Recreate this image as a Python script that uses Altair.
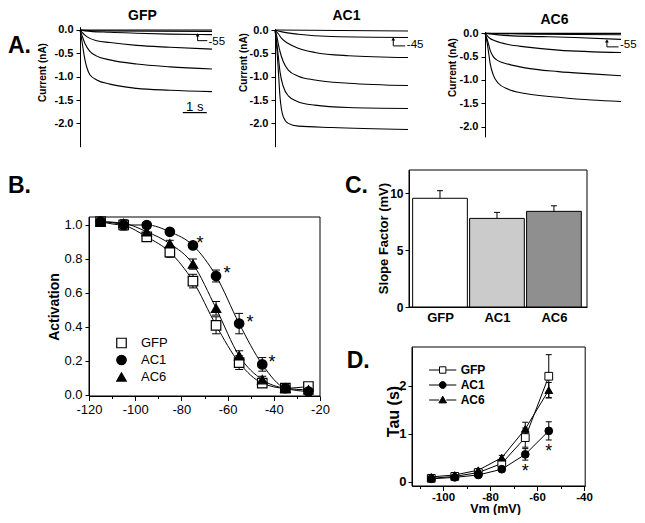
import json
import altair as alt
import pandas as pd

W, H = 629, 507
FONT = "Liberation Sans"
MINUS_FIX = "replace(datum.label, '\u2212', '-')"
MINOR_TICK = {"condition": {"test": "datum.value % 20 != 0", "value": 2.5}, "value": 4.5}


def P(v):
    # page pixel -> chart pixel (page has an 8px margin)
    return v - 8


def lin(domain, r0, r1):
    return alt.Scale(domain=domain, range=[P(r0), P(r1)], nice=False, zero=False)


def left_axis(x_page, values, fmt, title, label_size, label_weight, title_size,
              title_cx=0, title_cy=0, tick=4, pad=3):
    kw = dict(orient="left", offset=-P(x_page), values=values, labelExpr=MINUS_FIX,
              title=title, tickSize=tick, labelPadding=pad, labelFontSize=label_size,
              labelFontWeight=label_weight)
    if fmt:
        kw["format"] = fmt
    if title:
        kw.update(titleFontSize=title_size, titleFontWeight="bold",
                  titleX=title_cx - x_page, titleY=P(title_cy), titleAngle=-90,
                  titleBaseline="middle", titleAlign="center")
    return alt.Axis(**kw)


def bottom_axis(y_page, values, label_expr, title, label_size, label_weight, title_size=13,
                title_cx=0, title_cy=0, tick=4, pad=3, ticks=True):
    kw = dict(orient="bottom", offset=P(y_page) - H, values=values, labelExpr=label_expr,
              title=title, tickSize=tick, labelPadding=pad, ticks=ticks,
              labelFontSize=label_size, labelFontWeight=label_weight)
    if title:
        kw.update(titleFontSize=title_size, titleFontWeight="bold",
                  titleX=P(title_cx), titleY=title_cy - y_page,
                  titleBaseline="middle", titleAlign="center")
    return alt.Axis(**kw)


def top_title_axis(y_page, title, cx, cy):
    return alt.Axis(orient="top", offset=-P(y_page), domain=False, ticks=False, labels=False,
                    title=title, titleX=P(cx), titleY=cy - y_page, titleBaseline="middle",
                    titleAlign="center", titleFontSize=14, titleFontWeight="bold")


# ======================= DATA =======================
# ---- Panel A: current traces (time s, current nA) ----
TIME_DOMAIN = [0, 5.6]
A_TICKS = [0.0, -0.5, -1.0, -1.5, -2.0]

GFP_TRACES = [
    [(0, 0), (5.6, 0)],
    [(0, 0), (1.0, -0.02), (5.6, -0.03)],
    [(0, 0), (0.21, -0.02), (1.27, -0.05), (2.4, -0.07), (3.82, -0.09), (5.6, -0.10)],
    [(0, 0), (0.07, -0.04), (0.21, -0.11), (0.42, -0.18), (0.71, -0.23), (1.27, -0.27),
     (2.4, -0.33), (3.82, -0.37), (5.6, -0.41)],
    [(0, 0), (0.07, -0.10), (0.14, -0.20), (0.21, -0.29), (0.42, -0.46), (0.71, -0.56),
     (1.27, -0.64), (2.4, -0.73), (3.82, -0.79), (5.6, -0.835)],
    [(0, 0), (0.07, -0.20), (0.14, -0.43), (0.21, -0.64), (0.30, -0.82), (0.42, -0.96),
     (0.71, -1.07), (1.27, -1.16), (2.4, -1.25), (3.82, -1.29), (5.6, -1.32)],
]
AC1_TRACES = [
    [(0, 0), (5.6, -0.02)],
    [(0, 0), (0.3, -0.04), (0.98, -0.09), (2.39, -0.14), (5.6, -0.16)],
    [(0, 0), (0.14, -0.08), (0.28, -0.18), (0.56, -0.29), (0.98, -0.39), (1.68, -0.48),
     (3.09, -0.55), (5.6, -0.59)],
    [(0, 0), (0.07, -0.12), (0.14, -0.30), (0.21, -0.46), (0.35, -0.68), (0.56, -0.86),
     (0.98, -0.99), (1.68, -1.07), (3.09, -1.14), (5.6, -1.19)],
    [(0, 0), (0.07, -0.25), (0.14, -0.57), (0.21, -0.89), (0.35, -1.21), (0.56, -1.41),
     (0.98, -1.54), (1.68, -1.61), (3.09, -1.66), (5.6, -1.68)],
    [(0, 0), (0.07, -0.35), (0.14, -0.86), (0.21, -1.43), (0.35, -1.86), (0.56, -2.00),
     (0.98, -2.06), (2.39, -2.09), (5.6, -2.13)],
]
AC6_TRACES = [
    [(0, 0), (5.6, 0)],
    [(0, 0), (2.0, -0.02), (5.6, -0.03)],
    [(0, 0), (0.96, -0.05), (2.33, -0.07), (3.7, -0.09), (5.6, -0.13)],
    [(0, 0), (0.07, -0.04), (0.21, -0.11), (0.41, -0.16), (0.96, -0.24), (1.65, -0.29),
     (3.02, -0.36), (5.6, -0.41)],
    [(0, 0), (0.07, -0.10), (0.14, -0.22), (0.21, -0.36), (0.34, -0.50), (0.55, -0.59),
     (0.96, -0.66), (1.65, -0.74), (3.02, -0.82), (4.39, -0.87), (5.6, -0.91)],
    [(0, 0), (0.07, -0.15), (0.14, -0.38), (0.21, -0.64), (0.34, -0.89), (0.55, -1.07),
     (0.96, -1.20), (1.65, -1.29), (3.02, -1.37), (4.39, -1.43), (5.6, -1.46)],
]
GFP_ARROW = {"t": 4.99, "head": -0.107, "foot": -0.229, "t_end": 5.40, "lt": 5.45, "lI": -0.25, "text": "-55"}
AC1_ARROW = {"t": 4.98, "head": -0.19, "foot": -0.34, "t_end": 5.48, "lt": 5.55, "lI": -0.32, "text": "-45"}
AC6_ARROW = {"t": 5.02, "head": -0.16, "foot": -0.29, "t_end": 5.50, "lt": 5.56, "lI": -0.26, "text": "-55"}
SCALEBAR = {"t0": 4.36, "t1": 5.38, "I": -1.77, "tl": 4.87, "Il": -1.66, "text": "1 s"}

# ---- Panel B: activation curves ----
SERIES = ["GFP", "AC1", "AC6"]
B_V = [-115, -105, -95, -85, -75, -65, -55, -45, -35, -25]
B_GFP = [1.02, 1.00, 0.93, 0.84, 0.67, 0.41, 0.19, 0.07, 0.04, 0.05]
B_GFP_ERR = [0.01, 0.03, 0.02, 0.03, 0.04, 0.05, 0.04, 0.02, 0.01, 0.02]
B_AC1 = [1.02, 1.00, 1.00, 0.96, 0.88, 0.70, 0.42, 0.18, 0.04, 0.02]
B_AC1_ERR = [0.01, 0.01, 0.01, 0.01, 0.015, 0.035, 0.06, 0.04, 0.01, 0.01]
B_AC6 = [1.02, 1.01, 0.96, 0.89, 0.77, 0.51, 0.23, 0.09, 0.04, 0.03]
B_AC6_ERR = [0.01, 0.02, 0.02, 0.02, 0.03, 0.04, 0.03, 0.02, 0.01, 0.01]
B_STAR_V = [-72, -60.3, -50.3, -40.8]
B_STAR_A = [0.92, 0.74, 0.45, 0.22]

# ---- Panel C: slope factor ----
C_GROUPS = ["GFP", "AC1", "AC6"]
C_SLOPE = [9.57, 7.80, 8.42]
C_SEM = [0.67, 0.53, 0.49]
C_COLORS = ["#ffffff", "#cbcbcb", "#8f8f8f"]

# ---- Panel D: time constants ----
D_V = [-105, -95, -85, -75, -65, -55]
D_GFP = [0.07, 0.11, 0.19, 0.38, 0.92, 2.20]
D_GFP_ERR = [0.02, 0.02, 0.03, 0.05, 0.20, 0.45]
D_AC1 = [0.06, 0.09, 0.14, 0.26, 0.57, 1.06]
D_AC1_ERR = [0.02, 0.02, 0.02, 0.03, 0.12, 0.19]
D_AC6 = [0.10, 0.14, 0.24, 0.50, 1.10, 1.91]
D_AC6_ERR = [0.02, 0.03, 0.03, 0.05, 0.14, 0.16]
D_STAR_V = [-65, -55]
D_STAR_TAU = [0.31, 0.72]

SHAPES = ["square", "circle", "triangle-up"]
FILLS = ["white", "black", "black"]
STROKES = ["black", "black", "black"]
D_LEGEND_SHAPES = [
    "M-3.4,0H-0.85M0.85,0H3.4M-0.8,-0.8H0.8V0.8H-0.8Z",
    "M-3.4,0H-0.85M0.85,0H3.4M-0.85,0A0.85,0.85,0,1,0,0.85,0A0.85,0.85,0,1,0,-0.85,0Z",
    "M-3.4,0H-0.9M0.9,0H3.4M0,-0.95L0.95,0.72H-0.95Z",
]


def enc(xs, ys, xa, ya):
    """Encoders that always carry the same scale and axis spec (so shared axes merge cleanly)."""
    return (lambda f: alt.X(f, scale=xs, axis=xa)), (lambda f: alt.Y(f, scale=ys, axis=ya))


# ======================= PANEL A =======================
def panel_A(name, traces, x_range, y_dom, y_range, axis_x, title_c, ytitle_c, arrow, scalebar=None):
    rows = [{"t": t, "I": i, "trace": k} for k, tr in enumerate(traces) for t, i in tr]
    df = pd.DataFrame(rows)
    xs = lin(TIME_DOMAIN, *x_range)
    ys = lin(y_dom, *y_range)
    xa = top_title_axis(y_range[1], name, *title_c)
    ya = left_axis(axis_x, A_TICKS, ".1f", "Current (nA)", 11, "bold", 10,
                   ytitle_c[0], ytitle_c[1], tick=4, pad=3)
    X, Y = enc(xs, ys, xa, ya)
    layers = [
        alt.Chart(df).mark_line(color="black", strokeWidth=1.1, interpolate="monotone").encode(
            x=X("t:Q"), y=Y("I:Q"), detail="trace:N")
    ]
    base = alt.Chart(pd.DataFrame([arrow]))
    layers += [
        base.mark_rule(color="black", strokeWidth=1).encode(x=X("t:Q"), y=Y("head:Q"), y2="foot:Q"),
        base.mark_rule(color="black", strokeWidth=1).encode(x=X("t:Q"), x2="t_end:Q", y=Y("foot:Q")),
        base.mark_point(shape="triangle-up", filled=True, size=14, color="black", opacity=1).encode(
            x=X("t:Q"), y=Y("head:Q")),
        base.mark_text(align="left", baseline="middle", fontSize=11.5, color="black").encode(
            x=X("lt:Q"), y=Y("lI:Q"), text="text:N"),
    ]
    if scalebar:
        sb = alt.Chart(pd.DataFrame([scalebar]))
        layers += [
            sb.mark_rule(color="black", strokeWidth=1.2).encode(x=X("t0:Q"), x2="t1:Q", y=Y("I:Q")),
            sb.mark_text(align="center", baseline="middle", fontSize=13, color="black").encode(
                x=X("tl:Q"), y=Y("Il:Q"), text="text:N"),
        ]
    return alt.layer(*layers)


gfp = panel_A("GFP", GFP_TRACES, (80, 212), [-2.5, 0.07], (146.7, 26.7), 80, (142, 15.2), (42.5, 72),
              GFP_ARROW, SCALEBAR)
ac1 = panel_A("AC1", AC1_TRACES, (275, 408), [-2.5, 0.035], (146.7, 28.4), 275, (346, 15.5), (243, 62),
              AC1_ARROW)
ac6 = panel_A("AC6", AC6_TRACES, (485, 621), [-2.22, 0.035], (136.9, 31.7), 485, (554, 19), (452.5, 67),
              AC6_ARROW)


def long_df(xs, series_vals, series_errs, xname, yname):
    rows = []
    for s, vals, errs in zip(SERIES, series_vals, series_errs):
        for x, v, e in zip(xs, vals, errs):
            rows.append({xname: x, yname: v, "lo": v - e, "hi": v + e, "series": s})
    return pd.DataFrame(rows)


def symbol_channels(shape_range, legend):
    return dict(
        shape=alt.Shape("series:N", scale=alt.Scale(domain=SERIES, range=shape_range), legend=legend),
        fill=alt.Fill("series:N", scale=alt.Scale(domain=SERIES, range=FILLS), legend=legend),
        stroke=alt.Stroke("series:N", scale=alt.Scale(domain=SERIES, range=STROKES), legend=legend),
    )


# ======================= PANEL B =======================
B_XDOM = [-120, -20]
B_YDOM = [-0.006, 1.047]
bx = lin(B_XDOM, 89, 320)
by = lin(B_YDOM, 396, 217)
bxa = bottom_axis(396, list(range(-120, -19, 10)),
                  "datum.value % 20 == 0 ? " + MINUS_FIX + " : ''", None, 13, "normal", pad=2.5,
                  tick=MINOR_TICK)
bya = left_axis(89, [0.0, 0.2, 0.4, 0.6, 0.8, 1.0], ".1f", "Activation", 13, "normal", 14,
                54, 306.5, tick=4, pad=3)
bX, bY = enc(bx, by, bxa, bya)
dfB = long_df(B_V, [B_GFP, B_AC1, B_AC6], [B_GFP_ERR, B_AC1_ERR, B_AC6_ERR], "V", "A")
boxB = pd.DataFrame({"x0": [B_XDOM[0]], "x1": [B_XDOM[1]], "y0": [B_YDOM[0]], "y1": [B_YDOM[1]]})
b_legend = alt.Legend(orient="none", legendX=P(115), legendY=P(336.5), title=None, labelFontSize=13,
                      symbolSize=90, labelOffset=13, rowPadding=2, padding=0, symbolStrokeWidth=1.2)
panelB = alt.layer(
    alt.Chart(boxB).mark_rect(fillOpacity=0, stroke="black", strokeWidth=1).encode(
        x=bX("x0:Q"), x2="x1:Q", y=bY("y0:Q"), y2="y1:Q"),
    alt.Chart(dfB).mark_rule(color="black", strokeWidth=1).encode(x=bX("V:Q"), y=bY("lo:Q"), y2="hi:Q"),
    alt.Chart(dfB).mark_tick(orient="horizontal", size=8, thickness=1, color="black", opacity=1).encode(
        x=bX("V:Q"), y=bY("hi:Q")),
    alt.Chart(dfB).mark_tick(orient="horizontal", size=8, thickness=1, color="black", opacity=1).encode(
        x=bX("V:Q"), y=bY("lo:Q")),
    alt.Chart(dfB).mark_line(color="black", strokeWidth=1, interpolate="monotone").encode(
        x=bX("V:Q"), y=bY("A:Q"), detail="series:N"),
    alt.Chart(dfB).mark_point(filled=True, opacity=1, strokeWidth=1.2, size=90).encode(
        x=bX("V:Q"), y=bY("A:Q"), **symbol_channels(SHAPES, b_legend)),
    alt.Chart(pd.DataFrame({"V": B_STAR_V, "A": B_STAR_A, "s": ["*"] * len(B_STAR_V)})).mark_text(
        fontSize=18, baseline="alphabetic", dy=10, color="black").encode(
        x=bX("V:Q"), y=bY("A:Q"), text="s:N"),
)

# ======================= PANEL C =======================
C_XDOM = [0.456, 3.58]
C_YDOM = [0, 12.06]
cx = lin(C_XDOM, 409, 587)
cy = lin(C_YDOM, 307, 170)
dfC = pd.DataFrame({"group": C_GROUPS, "pos": list(range(1, len(C_GROUPS) + 1)),
                    "slope": C_SLOPE, "sem": C_SEM})
c_labels = json.dumps([""] + C_GROUPS)
cxa = bottom_axis(307, [1, 2, 3], c_labels + "[datum.value]", None, 13, "bold", pad=4, ticks=False)
cya = left_axis(409, [0, 5, 10], "d", "Slope Factor (mV)", 12, "bold", 13, 383, 238, tick=4, pad=2)
cX, cY = enc(cx, cy, cxa, cya)
boxC = pd.DataFrame({"x0": [C_XDOM[0]], "x1": [C_XDOM[1]], "y0": [C_YDOM[0]], "y1": [C_YDOM[1]]})
panelC = alt.layer(
    alt.Chart(boxC).mark_rect(fillOpacity=0, stroke="black", strokeWidth=1).encode(
        x=cX("x0:Q"), x2="x1:Q", y=cY("y0:Q"), y2="y1:Q"),
    alt.Chart(dfC).transform_calculate(top="datum.slope + datum.sem").mark_rule(
        color="black", strokeWidth=1).encode(x=cX("pos:Q"), y=cY("slope:Q"), y2="top:Q"),
    alt.Chart(dfC).transform_calculate(top="datum.slope + datum.sem").mark_tick(
        orient="horizontal", size=6, thickness=1, color="black", opacity=1).encode(
        x=cX("pos:Q"), y=cY("top:Q")),
    alt.Chart(dfC).transform_calculate(
        x0="datum.pos - 0.48", x1="datum.pos + 0.48", base="0").mark_rect(
        stroke="black", strokeWidth=1, opacity=1).encode(
        x=cX("x0:Q"), x2="x1:Q", y=cY("slope:Q"), y2="base:Q",
        fill=alt.Fill("group:N", scale=alt.Scale(domain=C_GROUPS, range=C_COLORS), legend=None)),
)

# ======================= PANEL D =======================
D_XDOM = [-113.2, -39.5]
D_YDOM = [-0.09, 2.81]
dx_ = lin(D_XDOM, 412, 585.2)
dy_ = lin(D_YDOM, 486, 347)
dxa = bottom_axis(486, list(range(-110, -39, 10)),
                  "datum.value % 20 == 0 ? " + MINUS_FIX + " : ''", "Vm (mV)", 11.5, "bold", 12.5,
                  495, 508.3, pad=0.5, tick=MINOR_TICK)
dya = left_axis(412, [0, 1, 2], "d", "Tau (s)", 13, "bold", 16, 393, 411, tick=4, pad=2)
dX, dY = enc(dx_, dy_, dxa, dya)
dfD = long_df(D_V, [D_GFP, D_AC1, D_AC6], [D_GFP_ERR, D_AC1_ERR, D_AC6_ERR], "V", "tau")
boxD = pd.DataFrame({"x0": [D_XDOM[0]], "x1": [D_XDOM[1]], "y0": [D_YDOM[0]], "y1": [D_YDOM[1]]})
d_legend = alt.Legend(orient="none", legendX=P(436.7), legendY=P(364), title=None, labelFontSize=12,
                      labelFontWeight="bold", symbolSize=64, labelOffset=12, rowPadding=3, padding=0,
                      symbolStrokeWidth=1)
panelD = alt.layer(
    alt.Chart(boxD).mark_rect(fillOpacity=0, stroke="black", strokeWidth=1).encode(
        x=dX("x0:Q"), x2="x1:Q", y=dY("y0:Q"), y2="y1:Q"),
    alt.Chart(dfD).mark_rule(color="black", strokeWidth=1).encode(x=dX("V:Q"), y=dY("lo:Q"), y2="hi:Q"),
    alt.Chart(dfD).mark_tick(orient="horizontal", size=6, thickness=1, color="black", opacity=1).encode(
        x=dX("V:Q"), y=dY("hi:Q")),
    alt.Chart(dfD).mark_tick(orient="horizontal", size=6, thickness=1, color="black", opacity=1).encode(
        x=dX("V:Q"), y=dY("lo:Q")),
    alt.Chart(dfD).mark_line(color="black", strokeWidth=1).encode(
        x=dX("V:Q"), y=dY("tau:Q"), detail="series:N"),
    alt.Chart(dfD).mark_point(filled=True, opacity=1, strokeWidth=1, size=60).encode(
        x=dX("V:Q"), y=dY("tau:Q"), **symbol_channels(SHAPES, None)),
    alt.Chart(alt.Data(values=[])).mark_point(filled=True, opacity=1, strokeWidth=1, size=64).encode(
        x=dX("V:Q"), y=dY("tau:Q"), **symbol_channels(D_LEGEND_SHAPES, d_legend)),
    alt.Chart(pd.DataFrame({"V": D_STAR_V, "tau": D_STAR_TAU, "s": ["*"] * len(D_STAR_V)})).mark_text(
        fontSize=18, baseline="alphabetic", dy=10, color="black").encode(
        x=dX("V:Q"), y=dY("tau:Q"), text="s:N"),
).resolve_scale(shape="independent", fill="independent", stroke="independent")


# ======================= PANEL LETTERS =======================
def letter(txt, x, y):
    return alt.Chart(alt.Data(values=[{}])).mark_text(
        text=txt, align="left", baseline="alphabetic", fontSize=23, fontWeight="bold", color="black"
    ).encode(x=alt.value(x), y=alt.value(y))


letters = [letter("A.", P(8), P(53)), letter("B.", P(8), P(193)),
           letter("C.", P(345), P(192.7)), letter("D.", P(346.7), P(367.7))]

chart = alt.layer(gfp, ac1, ac6, panelB, panelC, panelD, *letters).resolve_scale(
    x="independent", y="independent", shape="independent", fill="independent", stroke="independent"
).properties(
    width=W, height=H, padding=0, autosize=alt.AutoSizeParams(type="none")
).configure_view(stroke=None).configure_axis(
    labelFont=FONT, titleFont=FONT, labelColor="black", titleColor="black", domainColor="black",
    tickColor="black", grid=False, labelFlush=False, labelOverlap=False, domainWidth=1, tickWidth=1,
    minExtent=0
).configure_legend(labelFont=FONT, labelColor="black").configure_text(font=FONT, color="black")

chart.save("out.html", embed_options={"renderer": "svg", "actions": False})
